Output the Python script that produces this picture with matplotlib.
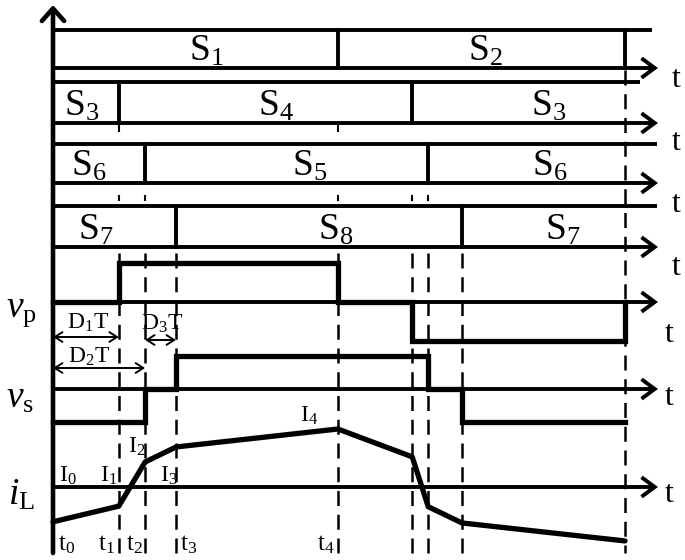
import matplotlib
matplotlib.use("Agg")
import matplotlib.pyplot as plt

plt.rcParams['font.family'] = ['Liberation Serif', 'DejaVu Serif']
plt.rcParams['mathtext.fontset'] = 'custom'
plt.rcParams['mathtext.rm'] = 'Liberation Serif'
plt.rcParams['mathtext.it'] = 'Liberation Serif:italic'

# === Data: switching instants as fraction of the period ===
t_inst = [0.0, 0.115, 0.161, 0.215, 0.498, 0.628, 0.656, 0.715, 1.0]
t_names = ['t0', 't1', 't2', 't3', 't4']

# switch rows: edges (fraction of period) and the device conducting in each part
sw_edges = [
    [0.0, 0.498, 1.0],
    [0.0, 0.115, 0.628, 1.0],
    [0.0, 0.161, 0.656, 1.0],
    [0.0, 0.215, 0.715, 1.0],
]
sw_labels = [
    ['1', '2'],
    ['3', '4', '3'],
    ['6', '5', '6'],
    ['7', '8', '7'],
]

# primary / secondary voltage levels per interval (-1, 0, +1)
vp_edges = [0.0, 0.115, 0.498, 0.628, 1.0]
vp_level = [0, 1, 0, -1]
vs_edges = [0.0, 0.161, 0.215, 0.656, 0.715, 1.0]
vs_level = [-1, 0, 1, 0, -1]

# inductor current at each instant (normalised to I4)
iL_vals = [-0.60, -0.33, 0.43, 0.69, 1.0, 0.52, -0.34, -0.62, -0.93]
I_names = ['I0', 'I1', 'I2', 'I3', 'I4']

# === Layout (pixels) ===
X0, XW = 53, 572
def tx(t):
    return X0 + XW * t

row_top = [30, 82, 144, 206]
row_bot = [68, 123, 183, 247]
row_top_end = [652, 640, 657, 657]
sw_label_x = [[0.268, 0.756], [0.050, 0.390, 0.866], [0.062, 0.449, 0.869], [0.074, 0.494, 0.892]]
ARROW_END = 658

vp_y, vp_amp = 302, 39
vs_y, vs_amp = 389, 33
iL_y, iL_amp = 487, 58

fig = plt.figure(figsize=(6.85, 5.6), dpi=100)
ax = fig.add_axes([0, 0, 1, 1])
ax.set_xlim(0, 685)
ax.set_ylim(560, 0)
ax.axis('off')

LW_AX = 2.8
LW_SIG = 3.8
SW_FS = 27


def h_arrow(y, x1=X0, x2=ARROW_END, lw=LW_AX):
    ax.annotate('', xy=(x2, y), xytext=(x1, y),
                arrowprops=dict(arrowstyle='->,head_length=0.95,head_width=0.7',
                                lw=lw, color='black', shrinkA=0, shrinkB=0,
                                joinstyle='miter', capstyle='butt'))


# vertical axis
ax.annotate('', xy=(X0, 5), xytext=(X0, 553),
            arrowprops=dict(arrowstyle='->,head_length=0.9,head_width=0.8',
                            lw=3.3, color='black', shrinkA=0, shrinkB=0))

# dashed guide lines
for t in t_inst[1:-1]:
    ax.plot([tx(t), tx(t)], [253, 553], color='black', lw=1.8, ls=(0, (6, 3.5)))
ax.plot([tx(1.0), tx(1.0)], [70, 553], color='black', lw=1.8, ls=(0, (6, 3.5)))

# small residual dots
for t in [t_inst[1], t_inst[4]]:
    ax.plot([tx(t), tx(t)], [126, 131], color='black', lw=1.5)
for t in [t_inst[1], t_inst[2], t_inst[4], t_inst[5], t_inst[6]]:
    ax.plot([tx(t), tx(t)], [196, 200], color='black', lw=1.5)

# switch rows
for i in range(4):
    ax.plot([X0, row_top_end[i]], [row_top[i], row_top[i]], color='black', lw=LW_AX,
            solid_capstyle='butt')
    h_arrow(row_bot[i])
    edges = sw_edges[i]
    inner = edges[1:-1] if i > 0 else edges[1:]
    for e in inner:
        ax.plot([tx(e), tx(e)], [row_top[i], row_bot[i]], color='black', lw=LW_AX)
    for lab, lx in zip(sw_labels[i], sw_label_x[i]):
        ax.text(tx(lx), row_bot[i] - 7, r'$\mathrm{S}_{%s}$' % lab, fontsize=SW_FS,
                ha='center', va='baseline')

# v_p
h_arrow(vp_y)
xs, ys = [], []
for k, lev in enumerate(vp_level):
    xs += [tx(vp_edges[k]), tx(vp_edges[k + 1])]
    ys += [vp_y - vp_amp * lev] * 2
xs.append(tx(vp_edges[-1]))
ys.append(vp_y)
ax.plot(xs, ys, color='black', lw=LW_SIG, solid_joinstyle='miter')

# v_s
h_arrow(vs_y)
xs, ys = [], []
for k, lev in enumerate(vs_level):
    xs += [tx(vs_edges[k]), tx(vs_edges[k + 1])]
    ys += [vs_y - vs_amp * lev] * 2
ax.plot(xs, ys, color='black', lw=LW_SIG, solid_joinstyle='miter')

# i_L
h_arrow(iL_y)
ax.plot([tx(t) for t in t_inst], [iL_y - iL_amp * v for v in iL_vals],
        color='black', lw=LW_SIG, solid_joinstyle='round', solid_capstyle='round')

# duty-cycle arrows
d_arrows = [(t_inst[0], t_inst[1], 337, '1', 88, 329),
            (t_inst[0], t_inst[2], 368, '2', 89, 363),
            (t_inst[2], t_inst[3], 340, '3', 162, 330)]
for a, b, y, n, lx, ly in d_arrows:
    ax.annotate('', xy=(tx(b), y), xytext=(tx(a), y),
                arrowprops=dict(arrowstyle='<->,head_length=0.55,head_width=0.35',
                                lw=1.4, color='black', shrinkA=0, shrinkB=0))
    ax.text(lx, ly, r'$\mathrm{D}_{%s}\mathrm{T}$' % n, fontsize=17,
            ha='center', va='baseline')

# signal names
ax.text(6, 317, r'$v_{\mathrm{p}}$', fontsize=27, va='baseline')
ax.text(6, 408, r'$v_{\mathrm{s}}$', fontsize=27, va='baseline')
ax.text(8, 505, r'$i_{\mathrm{L}}$', fontsize=27, va='baseline')

# axis "t" labels
t_lab_pos = [(672, 87), (672, 150), (672, 212), (672, 275),
             (665, 342), (665, 405), (665, 502)]
for x, y in t_lab_pos:
    ax.text(x, y, 't', fontsize=23, ha='left', va='baseline')

# instant labels
t_lab_x = [(58, 'left'), (115, 'right'), (143, 'right'), (180, 'left'), (335, 'right')]
for name, (x, ha) in zip(t_names, t_lab_x):
    ax.text(x, 550, r'$\mathrm{t}_{%s}$' % name[1:], fontsize=18, ha=ha, va='baseline')

# current labels
I_pos = [(59, 482), (100, 482), (128, 453), (160, 482), (300, 422)]
for name, (x, y) in zip(I_names, I_pos):
    ax.text(x, y, r'$\mathrm{I}_{%s}$' % name[1:], fontsize=17, ha='left', va='baseline')

fig.savefig('out.png', dpi=100)
